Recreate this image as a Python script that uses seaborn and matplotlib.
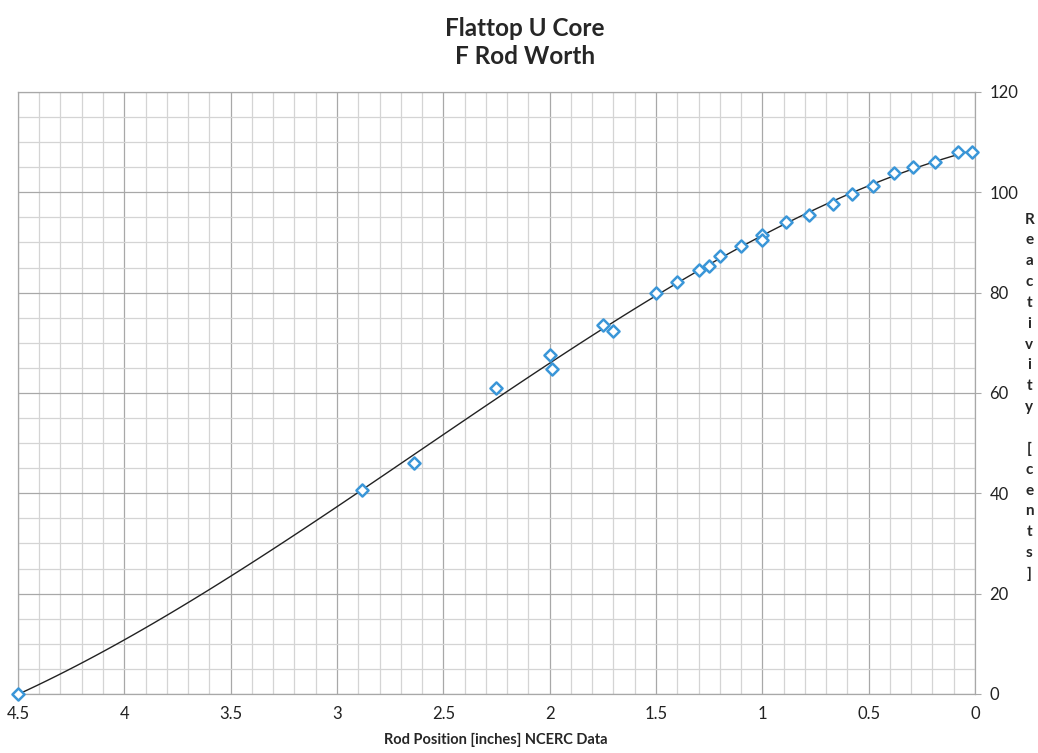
import numpy as np
import pandas as pd
import seaborn as sns
import matplotlib.pyplot as plt
from matplotlib.ticker import MultipleLocator

rod_position = [4.5, 2.88, 2.64, 2.25, 2.00, 1.99, 1.75, 1.70, 1.50, 1.40,
                1.30, 1.25, 1.20, 1.10, 1.00, 1.00, 0.89, 0.78, 0.67, 0.58,
                0.48, 0.38, 0.29, 0.19, 0.08, 0.015]
reactivity = [0.0, 40.7, 46.0, 61.0, 67.6, 64.8, 73.5, 72.4, 79.9, 82.2,
              84.5, 85.4, 87.2, 89.3, 91.5, 90.5, 94.1, 95.5, 97.7, 99.7,
              101.3, 103.9, 105.0, 106.0, 108.0, 108.0]

df = pd.DataFrame({'pos': rod_position, 'worth': reactivity})

sns.set_style('white')
plt.rcParams['font.family'] = ['Lato', 'DejaVu Sans']

fig = plt.figure(figsize=(10.38, 7.53), dpi=100)
ax = fig.add_axes([0.0173, 0.0784, 0.9220, 0.7995])

# trendline (polynomial fit, as in the original spreadsheet)
sns.regplot(data=df, x='pos', y='worth', order=3, ci=None, scatter=False,
            line_kws={'color': '#222222', 'lw': 1.0}, ax=ax)
sns.scatterplot(data=df, x='pos', y='worth', marker='D', s=38,
                facecolor='white', edgecolor='#3a96d8', linewidth=1.8,
                ax=ax, zorder=5, clip_on=False)

ax.set_xlim(4.5, 0)
ax.set_ylim(0, 120)
ax.xaxis.set_minor_locator(MultipleLocator(0.1))
ax.yaxis.set_major_locator(MultipleLocator(20))
ax.yaxis.set_minor_locator(MultipleLocator(5))
ax.yaxis.tick_right()
ax.set_xticks(np.arange(0, 4.51, 0.5))
ax.set_xticklabels(['0', '0.5', '1', '1.5', '2', '2.5', '3', '3.5', '4', '4.5'])

ax.grid(which='major', color='#a8a8a8', lw=0.9)
ax.grid(which='minor', color='#d4d4d4', lw=0.9)
ax.set_axisbelow(True)
for s in ax.spines.values():
    s.set_color('#a8a8a8')
    s.set_linewidth(0.9)

ax.tick_params(axis='x', which='major', length=4, color='#a8a8a8', pad=5,
               labelsize=12, labelcolor='#222222')
ax.tick_params(axis='x', which='minor', length=0)
ax.tick_params(axis='y', which='major', length=4.5, color='#a8a8a8', pad=6,
               labelsize=12, labelcolor='#222222')
ax.tick_params(axis='y', which='minor', length=0)
ax.set_xlabel('')
ax.set_ylabel('')

fig.text(0.506, 0.944, 'Flattop U Core\nF Rod Worth', ha='center', va='center',
         fontsize=17.5, fontweight='bold', linespacing=1.25)
fig.text(0.478, 0.017, 'Rod Position [inches] NCERC Data', ha='center', va='center',
         fontsize=10.5, fontweight='bold')
fig.text(0.9915, 0.473, 'R\ne\na\nc\nt\ni\nv\ni\nt\ny\n\n[\nc\ne\nn\nt\ns\n]',
         ha='center', va='center', fontsize=11, fontweight='bold', linespacing=1.62)

fig.savefig('out.png', dpi=100)
